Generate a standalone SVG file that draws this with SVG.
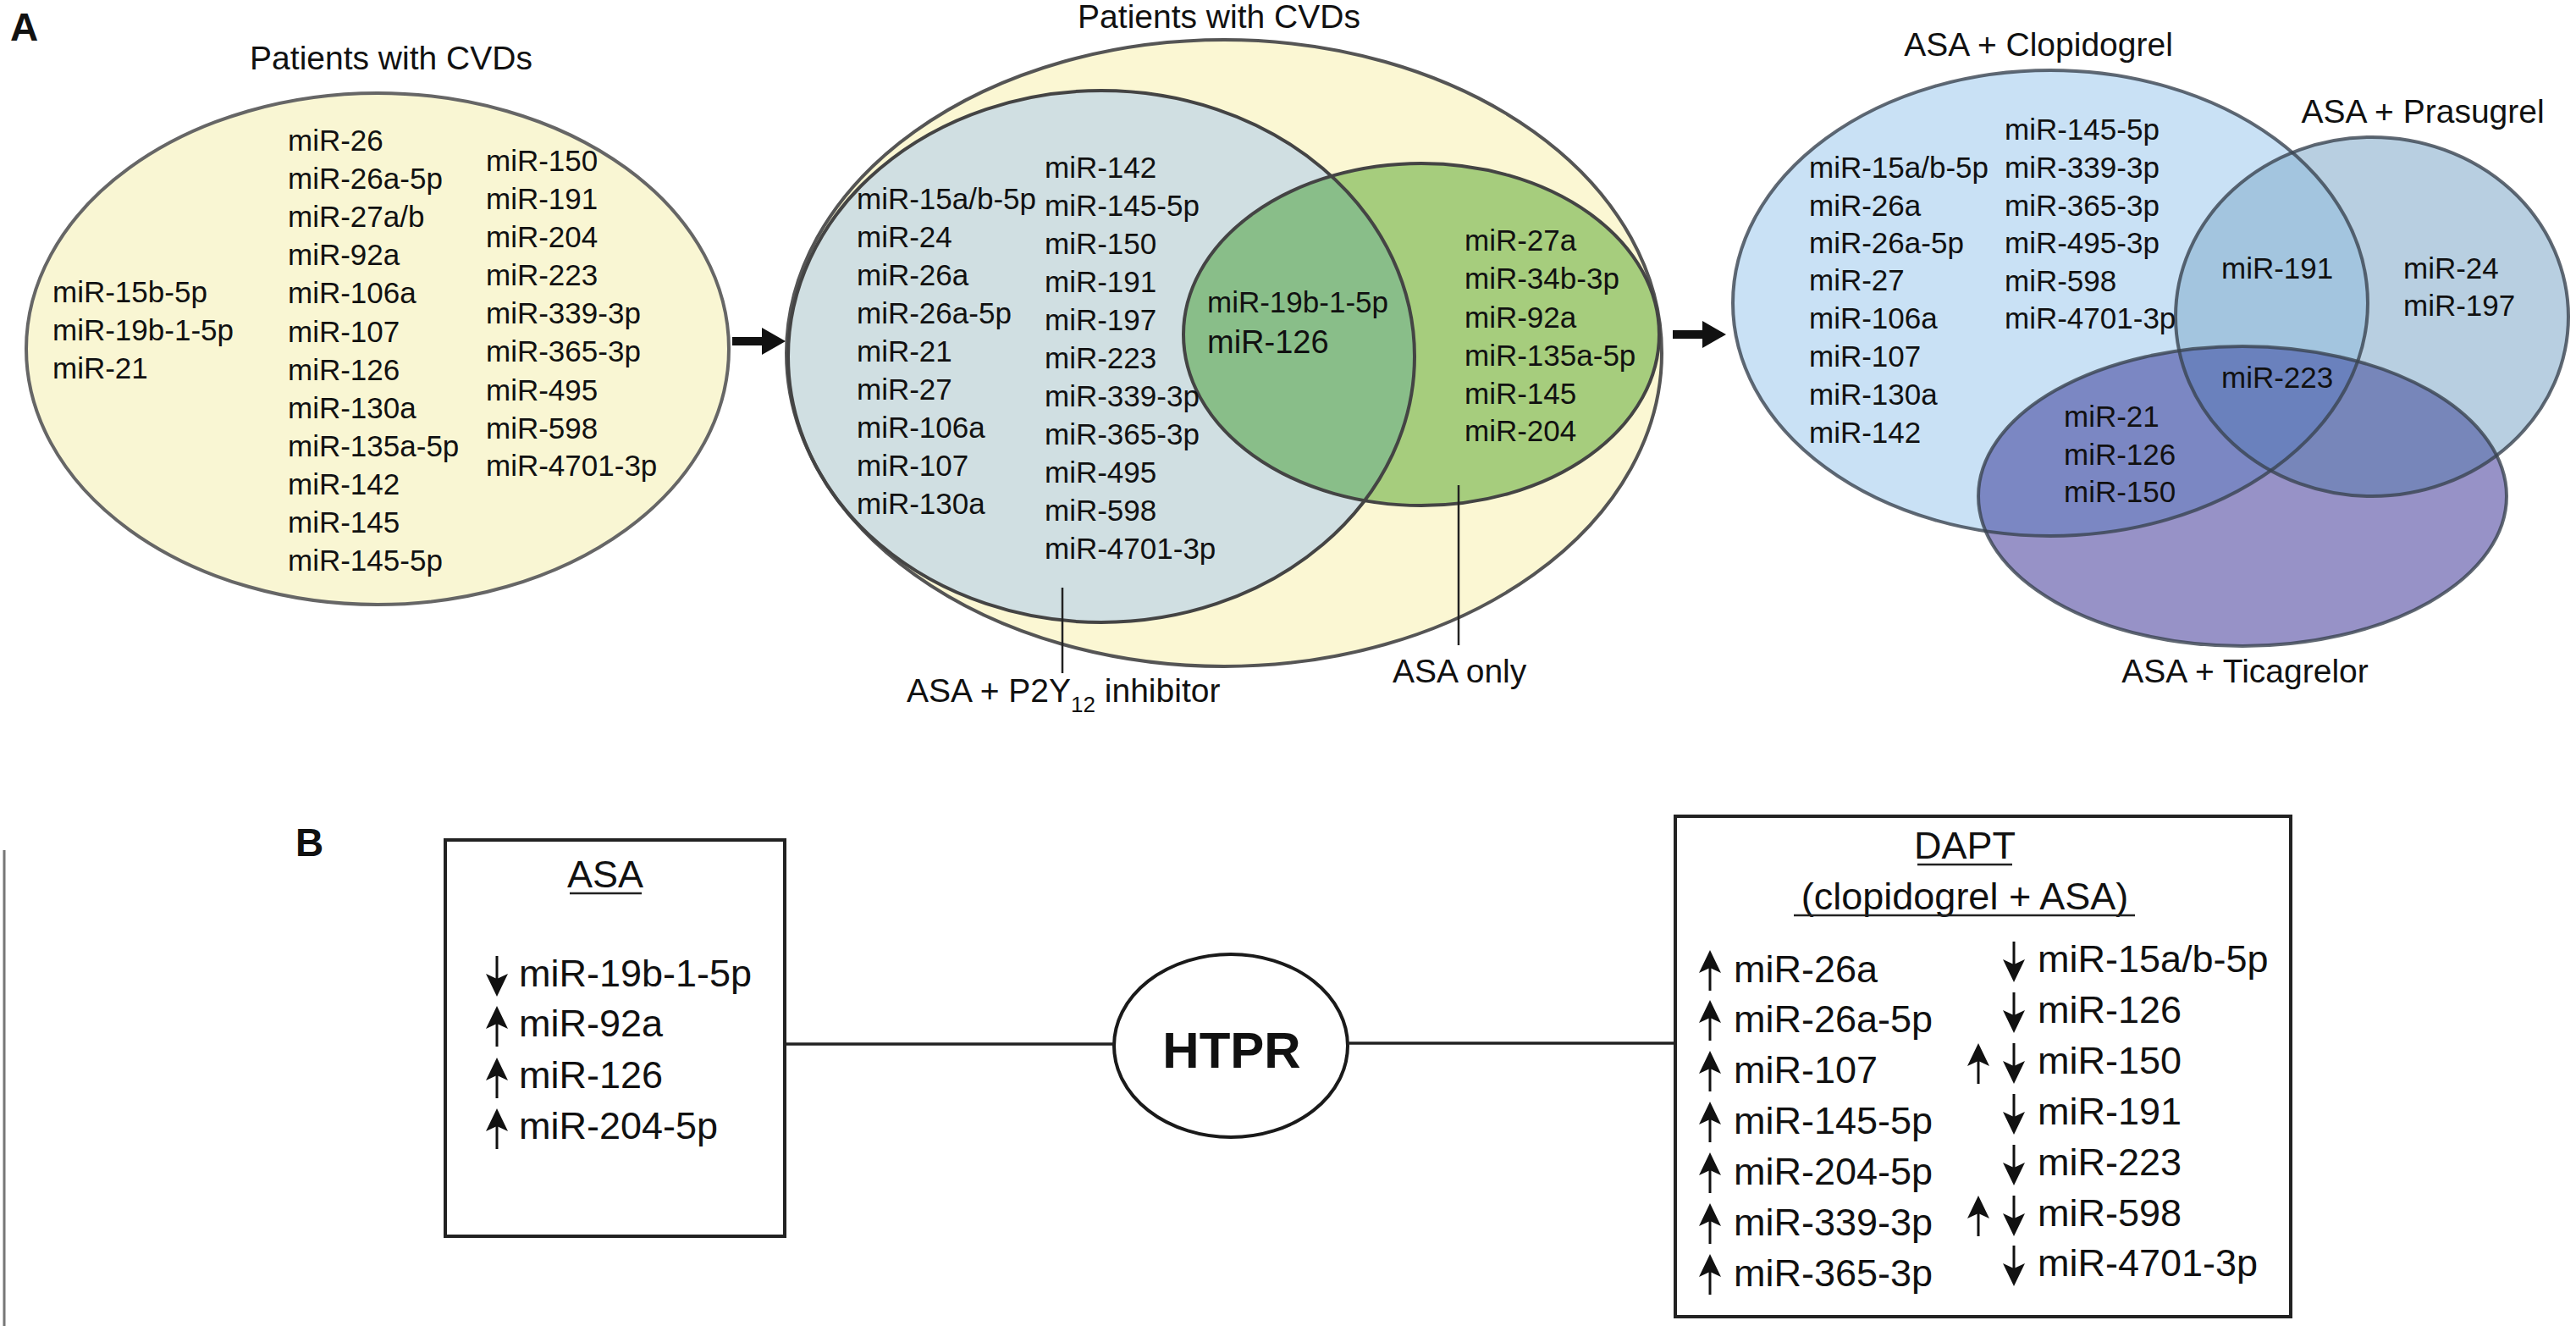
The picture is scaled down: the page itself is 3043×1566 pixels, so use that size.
<svg xmlns="http://www.w3.org/2000/svg" xmlns:xlink="http://www.w3.org/1999/xlink" width="3043" height="1566" viewBox="0 0 3043 1566">
<style>
text{font-family:"Liberation Sans",Arial,sans-serif;fill:#111;}
.s{font-size:35px;}
.m{font-size:38px;}
.h{font-size:39px;}
.b{font-size:45px;}
.lab{font-size:46px;font-weight:bold;}
.htpr{font-size:60px;font-weight:bold;}
.vo{stroke:#555;stroke-width:4;}
.rv{fill:none;stroke:#3a4450;stroke-opacity:0.8;stroke-width:4;}
.box{fill:#fff;stroke:#222;stroke-width:4;}
.ln{stroke:#222;stroke-width:3.5;fill:none;}
.ul{stroke:#222;stroke-width:2.5;}
.ar{fill:#111;stroke:#111;}
</style>
<defs>
<clipPath id="cBlue"><ellipse cx="1301" cy="421" rx="370" ry="314"/></clipPath>
<clipPath id="cClop"><ellipse cx="2422" cy="358" rx="375" ry="275"/></clipPath>
<clipPath id="cPras"><ellipse cx="2802" cy="374" rx="232" ry="212"/></clipPath>
<marker id="bigHead" markerUnits="userSpaceOnUse" markerWidth="28" markerHeight="32" viewBox="0 0 28 32" refX="1" refY="16" orient="auto">
<path d="M0,0 L28,16 L0,32 Z" fill="#111"/>
</marker>
<g id="up"><path d="M0,0 L13,27 L0,21 L-13,27 Z" fill="#111"/><line x1="0" y1="18" x2="0" y2="48" stroke="#111" stroke-width="3"/></g>
<g id="down"><path d="M0,0 L13,-27 L0,-21 L-13,-27 Z" fill="#111"/><line x1="0" y1="-18" x2="0" y2="-48" stroke="#111" stroke-width="3"/></g>
</defs>
<rect width="3043" height="1566" fill="#fff"/>

<!-- Panel labels -->
<text class="lab" x="12" y="48">A</text>
<text class="lab" x="349" y="1011">B</text>

<!-- Left: Patients with CVDs -->
<g id="cvd-all">
<ellipse cx="446" cy="412" rx="415" ry="302" fill="#f9f6d3" stroke="#666" stroke-width="4"/>
<text class="h" x="462" y="82" text-anchor="middle">Patients with CVDs</text>
<text class="s"><tspan x="62" y="357">miR-15b-5p</tspan><tspan x="62" y="402">miR-19b-1-5p</tspan><tspan x="62" y="447">miR-21</tspan></text>
<text class="s"><tspan x="340" y="178">miR-26</tspan><tspan x="340" y="223">miR-26a-5p</tspan><tspan x="340" y="268">miR-27a/b</tspan><tspan x="340" y="313">miR-92a</tspan><tspan x="340" y="358">miR-106a</tspan><tspan x="340" y="404">miR-107</tspan><tspan x="340" y="449">miR-126</tspan><tspan x="340" y="494">miR-130a</tspan><tspan x="340" y="539">miR-135a-5p</tspan><tspan x="340" y="584">miR-142</tspan><tspan x="340" y="629">miR-145</tspan><tspan x="340" y="674">miR-145-5p</tspan></text>
<text class="s"><tspan x="574" y="202">miR-150</tspan><tspan x="574" y="247">miR-191</tspan><tspan x="574" y="292">miR-204</tspan><tspan x="574" y="337">miR-223</tspan><tspan x="574" y="382">miR-339-3p</tspan><tspan x="574" y="427">miR-365-3p</tspan><tspan x="574" y="473">miR-495</tspan><tspan x="574" y="518">miR-598</tspan><tspan x="574" y="562">miR-4701-3p</tspan></text>
</g>

<!-- Middle venn -->
<g id="cvd-treated">
<ellipse cx="1446" cy="417" rx="517" ry="370" fill="#fbf7d3"/>
<text class="h" x="1440" y="33" text-anchor="middle">Patients with CVDs</text>
</g>
<g id="asa-p2y12">
<ellipse cx="1301" cy="421" rx="370" ry="314" fill="#d0dfe2"/>
</g>
<g id="asa-only">
<ellipse cx="1679" cy="395" rx="281" ry="202" fill="#a6cd7d"/>
<ellipse cx="1679" cy="395" rx="281" ry="202" fill="#89be89" clip-path="url(#cBlue)"/>
</g>
<g id="middle-outlines">
<ellipse cx="1446" cy="417" rx="517" ry="370" fill="none" class="vo"/>
<ellipse cx="1301" cy="421" rx="370" ry="314" fill="none" stroke="#444" stroke-width="4"/>
<ellipse cx="1679" cy="395" rx="281" ry="202" fill="none" stroke="#444" stroke-width="4"/>
</g>
<g id="middle-texts">
<text class="s"><tspan x="1012" y="247">miR-15a/b-5p</tspan><tspan x="1012" y="292">miR-24</tspan><tspan x="1012" y="337">miR-26a</tspan><tspan x="1012" y="382">miR-26a-5p</tspan><tspan x="1012" y="427">miR-21</tspan><tspan x="1012" y="472">miR-27</tspan><tspan x="1012" y="517">miR-106a</tspan><tspan x="1012" y="562">miR-107</tspan><tspan x="1012" y="607">miR-130a</tspan></text>
<text class="s"><tspan x="1234" y="210">miR-142</tspan><tspan x="1234" y="255">miR-145-5p</tspan><tspan x="1234" y="300">miR-150</tspan><tspan x="1234" y="345">miR-191</tspan><tspan x="1234" y="390">miR-197</tspan><tspan x="1234" y="435">miR-223</tspan><tspan x="1234" y="480">miR-339-3p</tspan><tspan x="1234" y="525">miR-365-3p</tspan><tspan x="1234" y="570">miR-495</tspan><tspan x="1234" y="615">miR-598</tspan><tspan x="1234" y="660">miR-4701-3p</tspan></text>
<text class="s" x="1426" y="369">miR-19b-1-5p</text>
<text class="m" x="1426" y="417">miR-126</text>
<text class="s"><tspan x="1730" y="296">miR-27a</tspan><tspan x="1730" y="341">miR-34b-3p</tspan><tspan x="1730" y="387">miR-92a</tspan><tspan x="1730" y="432">miR-135a-5p</tspan><tspan x="1730" y="477">miR-145</tspan><tspan x="1730" y="521">miR-204</tspan></text>
<text class="h" x="1071" y="829">ASA + P2Y<tspan font-size="26" dy="12">12</tspan><tspan dy="-12"> inhibitor</tspan></text>
<text class="h" x="1645" y="806">ASA only</text>
</g>

<!-- Right venn -->
<g id="asa-clopidogrel">
<ellipse cx="2422" cy="358" rx="375" ry="275" fill="#c9e1f5"/>
<text class="h" x="2408" y="66" text-anchor="middle">ASA + Clopidogrel</text>
</g>
<g id="asa-prasugrel">
<ellipse cx="2802" cy="374" rx="232" ry="212" fill="#b8cfe1"/>
<ellipse cx="2802" cy="374" rx="232" ry="212" fill="#a3c5df" clip-path="url(#cClop)"/>
<text class="h" x="2862" y="145" text-anchor="middle">ASA + Prasugrel</text>
</g>
<g id="asa-ticagrelor">
<ellipse cx="2649" cy="586" rx="312" ry="177" fill="#9792c7"/>
<ellipse cx="2649" cy="586" rx="312" ry="177" fill="#7b87c3" clip-path="url(#cClop)"/>
<ellipse cx="2649" cy="586" rx="312" ry="177" fill="#7786ba" clip-path="url(#cPras)"/>
<g clip-path="url(#cPras)"><ellipse cx="2649" cy="586" rx="312" ry="177" fill="#6a81bd" clip-path="url(#cClop)"/></g>
<text class="h" x="2652" y="806" text-anchor="middle">ASA + Ticagrelor</text>
</g>
<g id="right-outlines">
<ellipse cx="2422" cy="358" rx="375" ry="275" class="rv"/>
<ellipse cx="2802" cy="374" rx="232" ry="212" class="rv"/>
<ellipse cx="2649" cy="586" rx="312" ry="177" class="rv"/>
</g>
<g id="right-texts">
<text class="s"><tspan x="2137" y="210">miR-15a/b-5p</tspan><tspan x="2137" y="255">miR-26a</tspan><tspan x="2137" y="299">miR-26a-5p</tspan><tspan x="2137" y="343">miR-27</tspan><tspan x="2137" y="388">miR-106a</tspan><tspan x="2137" y="433">miR-107</tspan><tspan x="2137" y="478">miR-130a</tspan><tspan x="2137" y="523">miR-142</tspan></text>
<text class="s"><tspan x="2368" y="165">miR-145-5p</tspan><tspan x="2368" y="210">miR-339-3p</tspan><tspan x="2368" y="255">miR-365-3p</tspan><tspan x="2368" y="299">miR-495-3p</tspan><tspan x="2368" y="344">miR-598</tspan><tspan x="2368" y="388">miR-4701-3p</tspan></text>
<text class="s" x="2624" y="329">miR-191</text>
<text class="s"><tspan x="2839" y="329">miR-24</tspan><tspan x="2839" y="373">miR-197</tspan></text>
<text class="s" x="2624" y="458">miR-223</text>
<text class="s"><tspan x="2438" y="504">miR-21</tspan><tspan x="2438" y="549">miR-126</tspan><tspan x="2438" y="593">miR-150</tspan></text>
</g>

<!-- Panel B nodes -->
<g id="asa-box">
<rect class="box" x="526" y="992" width="401" height="468"/>
<text class="b" x="715" y="1048" text-anchor="middle" font-size="44">ASA</text>
<line class="ul" x1="673" y1="1055" x2="758" y2="1055"/>
<use xlink:href="#down" x="587" y="1177"/>
<use xlink:href="#up" x="587" y="1188"/>
<use xlink:href="#up" x="587" y="1249"/>
<use xlink:href="#up" x="587" y="1309"/>
<text class="b"><tspan x="613" y="1165">miR-19b-1-5p</tspan><tspan x="613" y="1224">miR-92a</tspan><tspan x="613" y="1285">miR-126</tspan><tspan x="613" y="1345">miR-204-5p</tspan></text>
</g>
<g id="htpr">
<ellipse cx="1454" cy="1235" rx="138" ry="108" fill="#fff" stroke="#1a1a1a" stroke-width="4"/>
<text class="htpr" x="1455" y="1261" text-anchor="middle">HTPR</text>
</g>
<g id="dapt-box">
<rect class="box" x="1979" y="964" width="727" height="591"/>
<text class="b" x="2321" y="1014" text-anchor="middle" font-size="44">DAPT</text>
<line class="ul" x1="2265" y1="1021" x2="2377" y2="1021"/>
<text class="b" x="2321" y="1074" text-anchor="middle">(clopidogrel + ASA)</text>
<line class="ul" x1="2119" y1="1081" x2="2522" y2="1081"/>
<use xlink:href="#up" x="2020" y="1122"/>
<use xlink:href="#up" x="2020" y="1181"/>
<use xlink:href="#up" x="2020" y="1241"/>
<use xlink:href="#up" x="2020" y="1301"/>
<use xlink:href="#up" x="2020" y="1361"/>
<use xlink:href="#up" x="2020" y="1421"/>
<use xlink:href="#up" x="2020" y="1481"/>
<text class="b"><tspan x="2048" y="1160">miR-26a</tspan><tspan x="2048" y="1219">miR-26a-5p</tspan><tspan x="2048" y="1279">miR-107</tspan><tspan x="2048" y="1339">miR-145-5p</tspan><tspan x="2048" y="1399">miR-204-5p</tspan><tspan x="2048" y="1459">miR-339-3p</tspan><tspan x="2048" y="1519">miR-365-3p</tspan></text>
<use xlink:href="#down" x="2379" y="1160"/>
<use xlink:href="#down" x="2379" y="1220"/>
<use xlink:href="#down" x="2379" y="1280"/>
<use xlink:href="#down" x="2379" y="1340"/>
<use xlink:href="#down" x="2379" y="1400"/>
<use xlink:href="#down" x="2379" y="1460"/>
<use xlink:href="#down" x="2379" y="1519"/>
<use xlink:href="#up" x="2337" y="1232"/>
<use xlink:href="#up" x="2337" y="1412"/>
<text class="b"><tspan x="2407" y="1148">miR-15a/b-5p</tspan><tspan x="2407" y="1208">miR-126</tspan><tspan x="2407" y="1268">miR-150</tspan><tspan x="2407" y="1328">miR-191</tspan><tspan x="2407" y="1388">miR-223</tspan><tspan x="2407" y="1448">miR-598</tspan><tspan x="2407" y="1507">miR-4701-3p</tspan></text>
</g>

<!-- Connectors -->
<g id="connectors">
<line x1="865" y1="403" x2="901" y2="403" stroke="#111" stroke-width="10" marker-end="url(#bigHead)"/>
<line x1="1976" y1="395" x2="2012" y2="395" stroke="#111" stroke-width="10" marker-end="url(#bigHead)"/>
<line x1="1255" y1="694" x2="1255" y2="795" stroke="#222" stroke-width="2.5"/>
<line x1="1723" y1="573" x2="1723" y2="762" stroke="#222" stroke-width="2.5"/>
<line class="ln" x1="927" y1="1233" x2="1316" y2="1233"/>
<line class="ln" x1="1592" y1="1232" x2="1979" y2="1232"/>
<line x1="5" y1="1004" x2="5" y2="1566" stroke="#777" stroke-width="3"/>
</g>
</svg>
